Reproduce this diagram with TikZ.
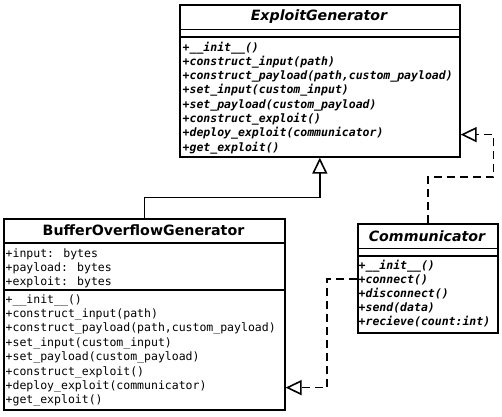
\documentclass[tikz,border=0pt]{standalone}
\usepackage{fontspec}
\setmainfont{DejaVu Sans}
\newfontfamily\umlmono{DejaVu Sans Mono}
\usetikzlibrary{arrows.meta,calc}
\tikzset{
  classbox/.style={draw, line width=1.6pt, fill=white, rectangle, inner sep=0pt, anchor=north west},
  sepline/.style={line width=1.6pt},
  titletext/.style={font=\fontsize{14.2}{17}\selectfont\bfseries, inner sep=0pt},
  abstitle/.style={titletext, font=\fontsize{14.2}{17}\selectfont\bfseries\itshape},
  mtext/.style={font=\umlmono\fontsize{11.5}{14}\selectfont, inner sep=0pt, anchor=base west},
  absm/.style={font=\umlmono\fontsize{11.5}{14}\selectfont\bfseries\itshape, inner sep=0pt, anchor=base west},
  gen/.style={line width=1.6pt, -{Triangle[open, width=15pt, length=16pt, fill=white]}},
  real/.style={gen, dash pattern=on 8pt off 5pt},
}
\begin{document}
\begin{tikzpicture}[x=1pt,y=-1pt]
\useasboundingbox (0,0) rectangle (502,416);
\fill[white] (0,0) rectangle (502,416);

% ExploitGenerator
\node[classbox, minimum width=280pt, minimum height=152pt] (eg) at (179,4) {};
\draw[sepline] (179,29.5) -- (459,29.5);
\draw[sepline] (179,37) -- (459,37);
\node[abstitle] (egt) at (319,17) {ExploitGenerator};
\foreach \t [count=\i] in {+\_\_init\_\_(), +construct\_input(path), {+construct\_payload(path,custom\_payload)}, +set\_input(custom\_input), +set\_payload(custom\_payload), +construct\_exploit(), +deploy\_exploit(communicator), +get\_exploit()}
  \node[absm] (egm\i) at (182.5,{51+(\i-1)*14.3}) {\t};

% BufferOverflowGenerator
\node[classbox, minimum width=281pt, minimum height=191pt] (bo) at (3,218) {};
\draw[sepline] (3,243) -- (284,243);
\draw[sepline] (3,290) -- (284,290);
\node[titletext] (bot) at (143.5,230.5) {BufferOverflowGenerator};
\foreach \t [count=\i] in {+input: bytes, +payload: bytes, +exploit: bytes}
  \node[mtext] (boa\i) at (5.5,{257+(\i-1)*14}) {\t};
\foreach \t [count=\i] in {+\_\_init\_\_(), +construct\_input(path), {+construct\_payload(path,custom\_payload)}, +set\_input(custom\_input), +set\_payload(custom\_payload), +construct\_exploit(), +deploy\_exploit(communicator), +get\_exploit()}
  \node[mtext] (bom\i) at (5.5,{303+(\i-1)*14.4}) {\t};

% Communicator
\node[classbox, minimum width=140pt, minimum height=109pt] (cm) at (357,223) {};
\draw[sepline] (357,248.3) -- (497,248.3);
\draw[sepline] (357,256) -- (497,256);
\node[abstitle] (cmt) at (427,236) {Communicator};
\foreach \t [count=\i] in {+\_\_init\_\_(), +connect(), +disconnect(), +send(data), +recieve(count:int)}
  \node[absm] (cmm\i) at (358.5,{269+(\i-1)*14.2}) {\t};

% connectors
\draw[gen] (bo.north) |- ($(eg.south)+(0,40)$) -- (eg.south);
\draw[real] (cm.north) -- ($(cm.north)+(0,-46)$) -| ($(eg.south east)+(33,-23)$) -- ($(eg.south east)+(0,-23)$);
\draw[real] ($(cm.north west)+(0,56)$) -- ++(-30,0) |- ($(bo.south east)+(0,-23)$);
\end{tikzpicture}
\end{document}
